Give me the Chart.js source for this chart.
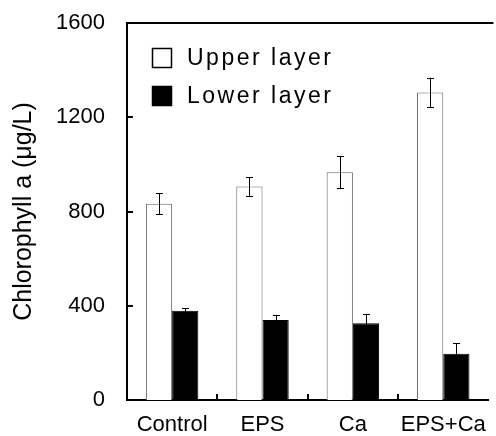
<!DOCTYPE html>
<html>
<head>
<meta charset="utf-8">
<script src="https://cdn.jsdelivr.net/npm/chart.js@4"></script>
<style>
  html, body { margin: 0; padding: 0; background: #fff; overflow: hidden; }
  #wrap { width: 500px; height: 436px; }
</style>
</head>
<body>
<div id="wrap"><canvas id="chl"></canvas></div>
<script>
// Chlorophyll a, upper vs lower layer
const categories = ['Control', 'EPS', 'Ca', 'EPS+Ca'];
const upperLayer = [833, 906, 967, 1305];
const upperErr = [45, 40, 68, 63];
const lowerLayer = [379, 339, 326, 196];
const lowerErr = [11, 21, 39, 45];
const seriesNames = ['Upper layer', 'Lower layer'];

const FONT = "'Liberation Sans', Arial, sans-serif";

// error bars + frame bits + legend inside the plot
const extras = {
  id: 'extras',
  afterDatasetsDraw(chart) {
    const ctx = chart.ctx;
    const y = chart.scales.y;
    const x = chart.scales.x;
    const area = chart.chartArea;
    const errs = [upperErr, lowerErr];
    const vals = [upperLayer, lowerLayer];

    ctx.save();
    ctx.strokeStyle = '#000';
    ctx.lineWidth = 1;
    chart.data.datasets.forEach((ds, di) => {
      chart.getDatasetMeta(di).data.forEach((bar, i) => {
        const top = y.getPixelForValue(vals[di][i] + errs[di][i]);
        const bot = y.getPixelForValue(vals[di][i] - errs[di][i]);
        const cx = Math.round(bar.x) + 0.5;
        ctx.beginPath();
        ctx.moveTo(cx, top); ctx.lineTo(cx, bot);
        ctx.moveTo(cx - 3.5, Math.round(top) + 0.5); ctx.lineTo(cx + 3.5, Math.round(top) + 0.5);
        ctx.moveTo(cx - 3.5, Math.round(bot) + 0.5); ctx.lineTo(cx + 3.5, Math.round(bot) + 0.5);
        ctx.stroke();
      });
    });

    // top frame line
    ctx.lineWidth = 2;
    ctx.beginPath();
    ctx.moveTo(area.left - 1, area.top);
    ctx.lineTo(area.right + 5, area.top);
    ctx.stroke();

    // inward ticks on y
    y.ticks.forEach(t => {
      if (t.value === 0 || t.value === 1600) return;
      const py = Math.round(y.getPixelForValue(t.value));
      ctx.beginPath();
      ctx.moveTo(area.left, py); ctx.lineTo(area.left + 6, py);
      ctx.stroke();
    });
    // inward ticks between categories
    for (let i = 0; i < categories.length - 1; i++) {
      const px = Math.round((x.getPixelForValue(i) + x.getPixelForValue(i + 1)) / 2);
      ctx.beginPath();
      ctx.moveTo(px, area.bottom); ctx.lineTo(px, area.bottom - 6);
      ctx.stroke();
    }

    // legend
    const fills = ['#fff', '#000'];
    const rowY = [58, 96];
    ctx.font = '23px ' + FONT;
    ctx.textBaseline = 'middle';
    ctx.textAlign = 'left';
    ctx.letterSpacing = '2.5px';
    seriesNames.forEach((name, k) => {
      ctx.fillStyle = fills[k];
      ctx.fillRect(152, rowY[k] - 10, 20, 20);
      ctx.lineWidth = 1.5;
      ctx.strokeStyle = '#000';
      ctx.strokeRect(152.5, rowY[k] - 9.5, 19, 19);
      ctx.fillStyle = '#000';
      ctx.fillText(name, 187, rowY[k] + 1);
    });
    ctx.restore();
  }
};

new Chart(document.getElementById('chl'), {
  type: 'bar',
  data: {
    labels: categories,
    datasets: [
      {
        label: seriesNames[0],
        data: upperLayer,
        backgroundColor: '#fff',
        borderColor: '#666',
        borderWidth: 1
      },
      {
        label: seriesNames[1],
        data: lowerLayer,
        backgroundColor: '#000',
        borderColor: '#000',
        borderWidth: 1
      }
    ]
  },
  options: {
    responsive: true,
    maintainAspectRatio: false,
    animation: false,
    categoryPercentage: 0.58,
    barPercentage: 1,
    layout: { padding: { left: 5, top: 23, right: 2, bottom: -14 } },
    plugins: {
      legend: { display: false },
      tooltip: { enabled: false }
    },
    scales: {
      x: {
        grid: { display: false, drawTicks: false },
        border: { display: true, color: '#000', width: 2 },
        ticks: {
          color: '#000', padding: 14, autoSkip: false, maxRotation: 0, minRotation: 0,
          font: { family: FONT, size: 22, lineHeight: 1 }
        }
      },
      y: {
        min: 0,
        max: 1600,
        grid: { display: false, drawTicks: false },
        border: { display: true, color: '#000', width: 2 },
        ticks: {
          stepSize: 400, color: '#000', padding: 22,
          callback: v => String(v),
          font: { family: FONT, size: 22, lineHeight: 0.05 }
        },
        title: {
          display: true,
          text: 'Chlorophyll a (μg/L)',
          color: '#000',
          font: { family: FONT, size: 25 },
          padding: { top: 4, bottom: -5 }
        }
      }
    }
  },
  plugins: [extras]
});
</script>
</body>
</html>
